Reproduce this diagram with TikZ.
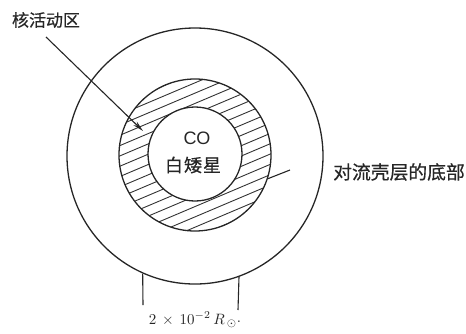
\documentclass[tikz,border=0pt]{standalone}
\usepackage{fontspec}
\newfontfamily\cjk[FakeBold=0.6]{Noto Sans CJK SC}
\setmainfont{Latin Modern Roman}
\usetikzlibrary{arrows.meta,calc}
\tikzset{
  ring/.style={circle,draw=black!85,line width=1.3pt,inner sep=0pt},
  hatch/.style={draw=black!80,line width=0.9pt},
  lbl/.style={inner sep=0pt,font=\cjk\fontsize{17}{17}\selectfont,text=black!85},
  ptr/.style={draw=black!85,line width=1.1pt},
  dimln/.style={draw=black!85,line width=1.1pt}
}
\begin{document}
\begin{tikzpicture}[x=1pt,y=-1pt]
\useasboundingbox (0,0) rectangle (466,333);
% hatching of the nuclear-active shell
\begin{scope}[even odd rule]
  \clip (195,155) circle (76) (195,154) circle (47);
  \foreach \k in {-8,...,8}{
    \draw[hatch] ({195+\k*3.71-92},{155+\k*8.74+39}) -- ({195+\k*3.71+92},{155+\k*8.74-39});
  }
\end{scope}
\node[ring,minimum size=256pt] (outer) at (195,156) {};
\node[ring,minimum size=152pt] (mid) at (195,155) {};
\node[ring,minimum size=94pt] (inner) at (195,154) {};
\node[inner sep=0pt,font=\fontspec{Liberation Sans}\fontsize{18}{18}\selectfont,text=black!85] (co) at (197,138) {CO};
\node[lbl,font=\cjk\fontsize{18}{18}\selectfont] (wd) at (193,165) {白\hspace{1pt}矮\hspace{1pt}星};
\node[lbl] (core) at (46,20) {核活动区};
\node[lbl,anchor=west,font=\cjk\fontsize{18.8}{19}\selectfont] (conv) at (333,172) {对流壳层的底部};
\coordinate (a1s) at (46,37);
\coordinate (a1e) at (143,131);
\draw[ptr,-{Stealth[length=11pt,width=5pt]}] (a1s) -- (a1e);
\coordinate (c1s) at (290,170);
\draw[ptr] (c1s) -- (mid.-18);
\coordinate (d1) at (143,305);
\coordinate (d2) at (238,310);
\draw[dimln] (outer.-114) -- (d1);
\draw[dimln] (outer.-70) -- (d2);
\node[inner sep=0pt,text=black!85] (dim) at (195,320) {\scalebox{1.5}{$2\,\times\,10^{-2}\,R_{\,\odot}$\raisebox{1.5pt}{.}}};
\end{tikzpicture}
\end{document}
